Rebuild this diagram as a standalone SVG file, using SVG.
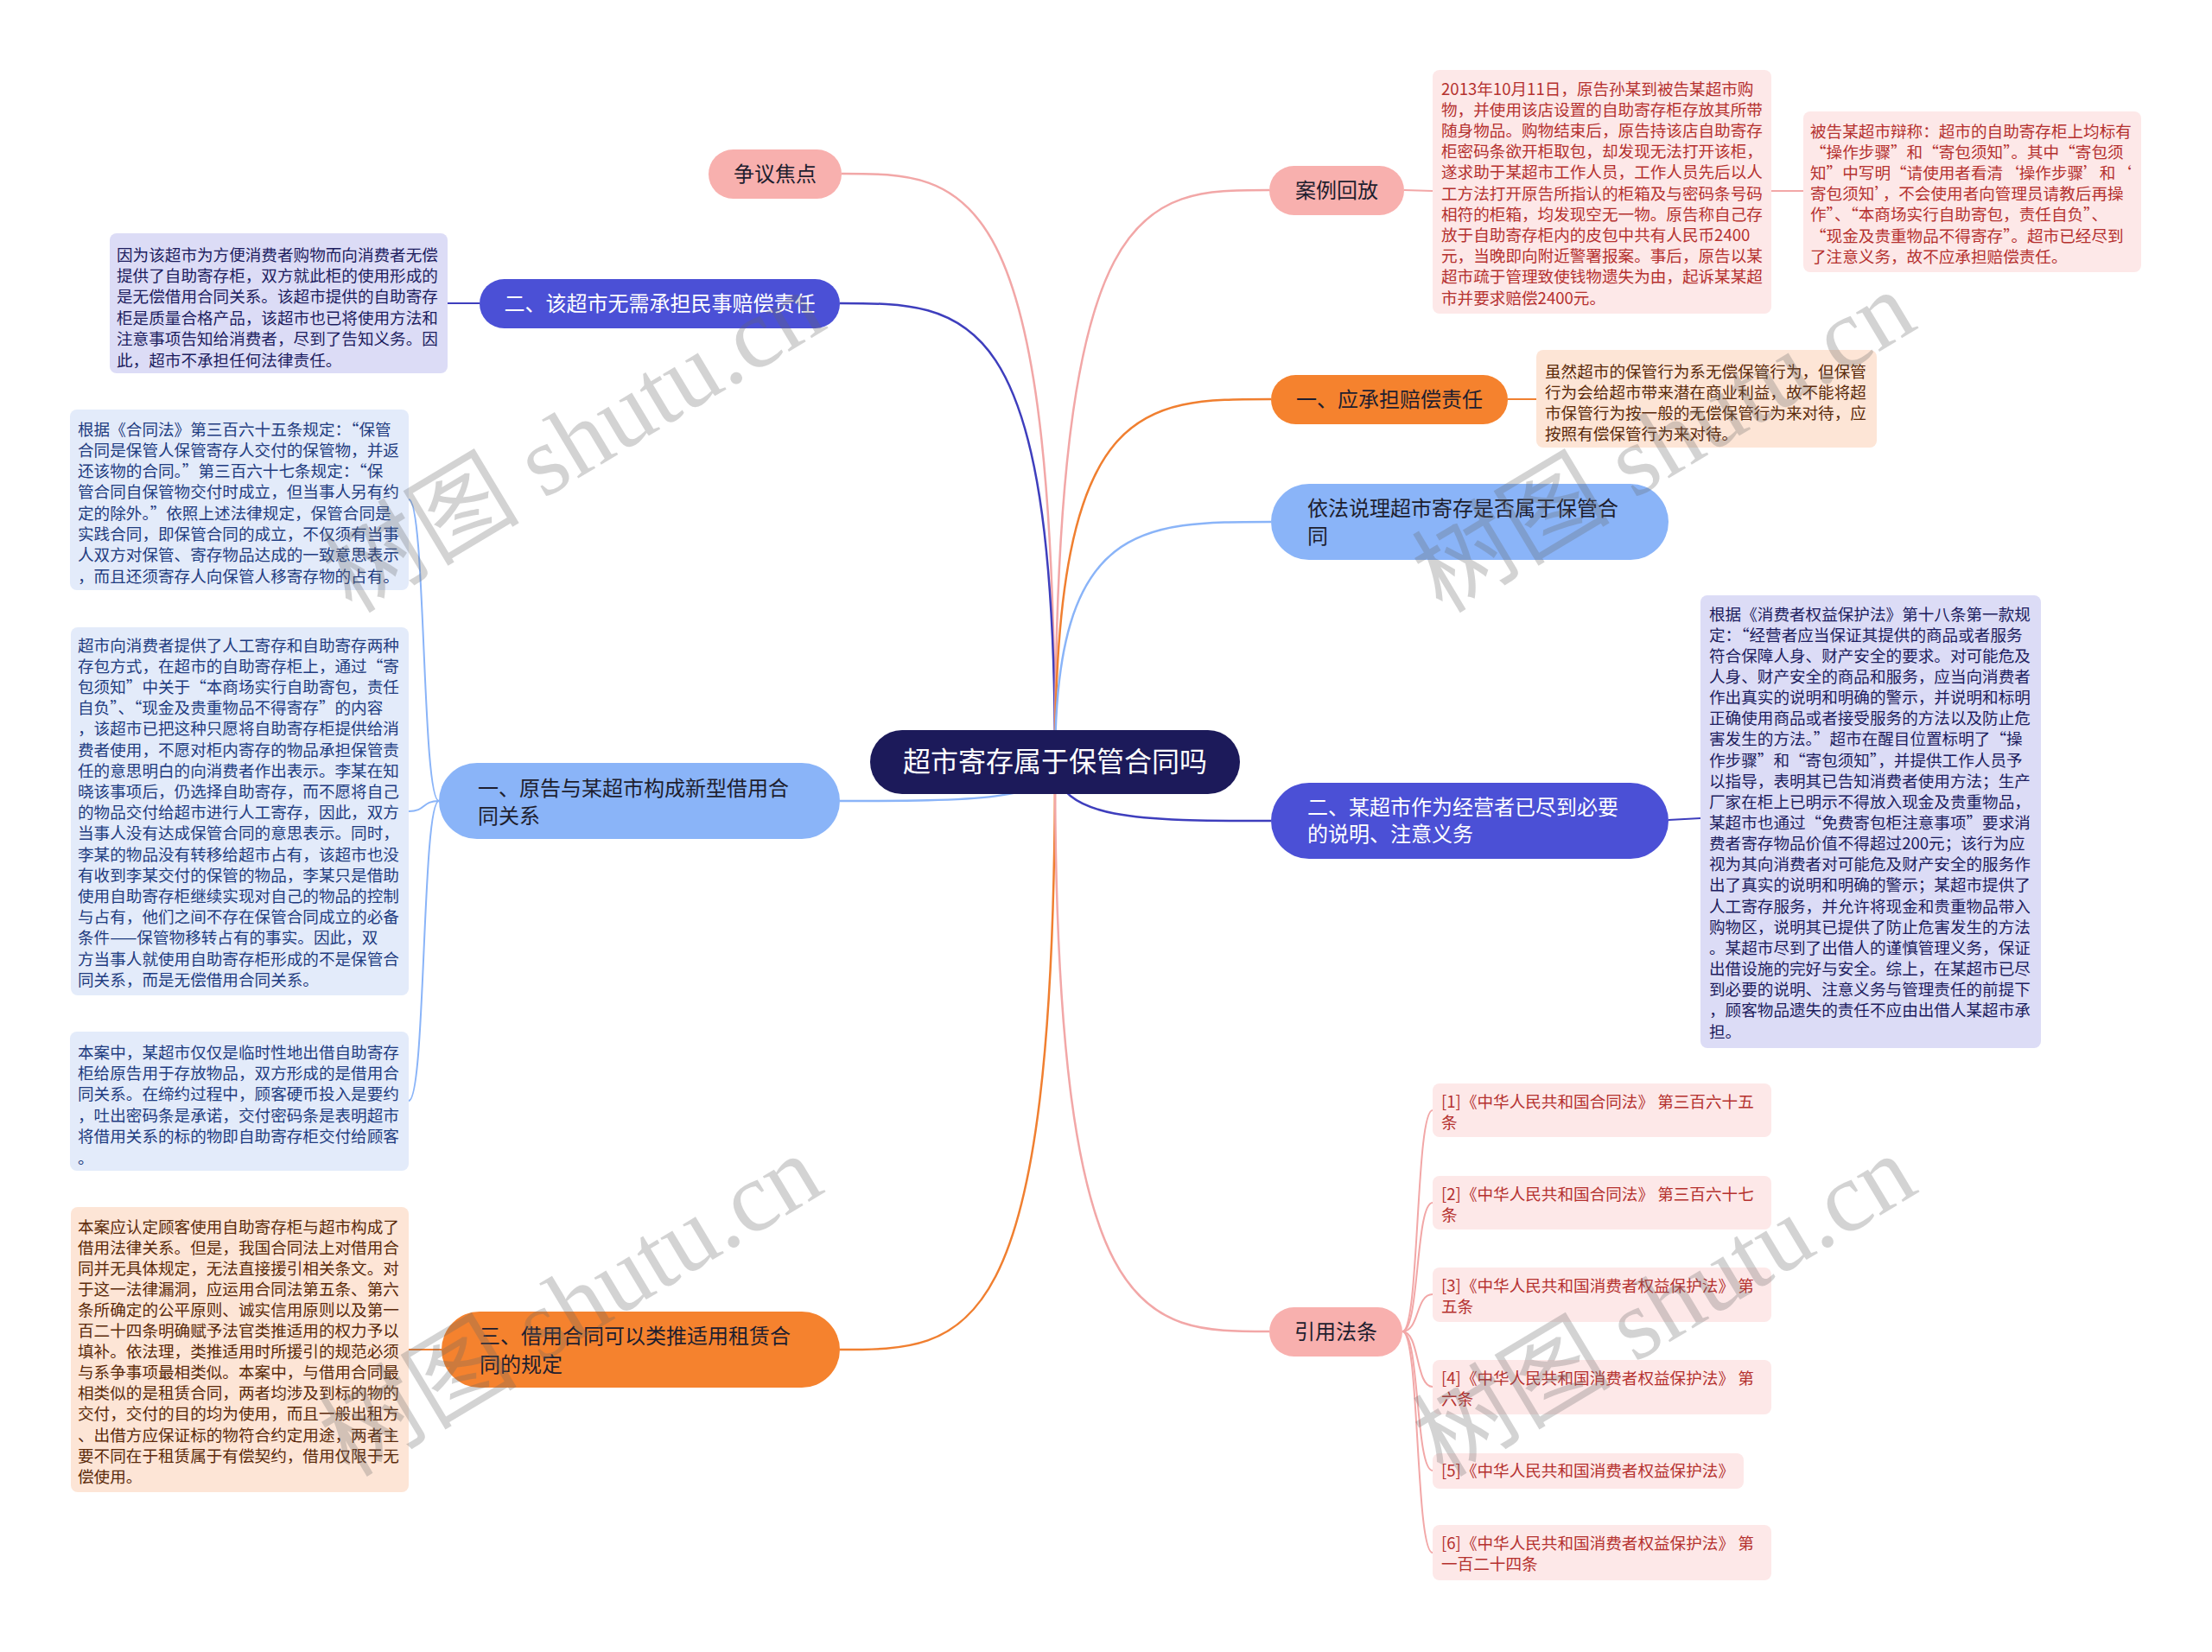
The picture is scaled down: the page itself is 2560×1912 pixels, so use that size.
<svg xmlns="http://www.w3.org/2000/svg" width="2560" height="1912" viewBox="0 0 2560 1912">
<style>
text{font-family:"Noto Sans CJK SC","Noto Sans",sans-serif}
.n{font-size:24px;fill:#1e1e2e}
.nw{font-size:24px;fill:#ffffff}
.t{font-size:18.6px}
.c{fill:none;stroke-width:2.5}
.s{fill:none;stroke-width:2}
.pk{stroke:#f2a7a7}
.or{stroke:#f07f30}
.lb{stroke:#8ab4f8}
.ig{stroke:#3e3ebd}
.bpk{fill:#fde8e8}
.bla{fill:#dcdcf6}
.blb{fill:#e3ebfa}
.bpe{fill:#fde5d6}
.tpk{fill:#b5312f}
.tla{fill:#1d1d5e}
.tlb{fill:#1f3c80}
.tpe{fill:#5b2a0a}
.wm{font-family:"Liberation Serif","Noto Sans CJK SC",serif;font-size:115px;fill:#666;opacity:0.28}
</style>
<rect width="2560" height="1912" fill="#ffffff"/>

<g id="connectors">
  <path class="c pk" d="M1221,882 C1221,201 1121,201 974,201"/>
  <path class="c ig" d="M1221,882 C1221,351 1121,351 972,351"/>
  <path class="c lb" d="M1221,882 C1221,927 1121,927 972,927"/>
  <path class="c or" d="M1221,882 C1221,1562 1121,1562 972,1562"/>
  <path class="c pk" d="M1221,882 C1221,220 1321,220 1469,220"/>
  <path class="c or" d="M1221,882 C1221,462 1321,462 1471,462"/>
  <path class="c lb" d="M1221,882 C1221,604 1321,604 1471,604"/>
  <path class="c ig" d="M1221,882 C1221,950 1321,950 1471,950"/>
  <path class="c pk" d="M1221,882 C1221,1541 1321,1541 1469,1541"/>

  <path class="s pk" d="M1625,220 L1658,221"/>
  <path class="s pk" d="M2050,221 L2087,221"/>
  <path class="s or" d="M1745,462 L1778,462"/>
  <path class="s ig" d="M1931,949 L1968,947"/>
  <path class="s ig" d="M555,351 L518,351"/>
  <path class="s or" d="M511,1562 L473,1562"/>
  <path class="s lb" d="M508,927 C488,927 493,578 473,578"/>
  <path class="s lb" d="M508,927 C488,927 493,939 473,939"/>
  <path class="s lb" d="M508,927 C488,927 493,1274 473,1274"/>

  <path class="s pk" d="M1623,1541 C1643,1541 1638,1285 1658,1285"/>
  <path class="s pk" d="M1623,1541 C1643,1541 1638,1392 1658,1392"/>
  <path class="s pk" d="M1623,1541 C1643,1541 1638,1498 1658,1498"/>
  <path class="s pk" d="M1623,1541 C1643,1541 1638,1605 1658,1605"/>
  <path class="s pk" d="M1623,1541 C1643,1541 1638,1702 1658,1702"/>
  <path class="s pk" d="M1623,1541 C1643,1541 1638,1797 1658,1797"/>
</g>

<g id="center">
  <rect x="1007" y="845" width="428" height="74" rx="37" fill="#1c1a5a"/>
  <text x="1221" y="893" text-anchor="middle" style="font-size:32px" fill="#ffffff">超市寄存属于保管合同吗</text>
</g>

<g id="n-zhengyi">
  <rect x="820" y="173" width="154" height="57" rx="28.5" fill="#f8b0ae"/>
  <text class="n" x="897" y="209.5" text-anchor="middle">争议焦点</text>
</g>

<g id="n-wuxu">
  <rect x="555" y="323" width="417" height="57" rx="28.5" fill="#4b50d6"/>
  <text class="nw" x="763.5" y="359.5" text-anchor="middle">二、该超市无需承担民事赔偿责任</text>
</g>
<g id="b-wuxu">
  <rect class="bla" x="127" y="270" width="391" height="162" rx="8"/>
  <text class="t tla">
    <tspan x="135" y="301.5">因为该超市为方便消费者购物而向消费者无偿</tspan>
    <tspan x="135" y="325.9">提供了自助寄存柜，双方就此柜的使用形成的</tspan>
    <tspan x="135" y="350.3">是无偿借用合同关系。该超市提供的自助寄存</tspan>
    <tspan x="135" y="374.7">柜是质量合格产品，该超市也已将使用方法和</tspan>
    <tspan x="135" y="399.1">注意事项告知给消费者，尽到了告知义务。因</tspan>
    <tspan x="135" y="423.5">此，超市不承担任何法律责任。</tspan>
  </text>
</g>

<g id="n-yuangao">
  <rect x="508" y="883" width="464" height="88" rx="44" fill="#8ab4f8"/>
  <text class="n">
    <tspan x="553" y="921">一、原告与某超市构成新型借用合</tspan>
    <tspan x="553" y="953">同关系</tspan>
  </text>
</g>
<g id="b-yuangao-1">
  <rect class="blb" x="81" y="474" width="392" height="209" rx="8"/>
  <text class="t tlb">
    <tspan x="90" y="503.5">根据《合同法》第三百六十五条规定：“保管</tspan>
    <tspan x="90" y="527.8">合同是保管人保管寄存人交付的保管物，并返</tspan>
    <tspan x="90" y="552.1">还该物的合同。”第三百六十七条规定：“保</tspan>
    <tspan x="90" y="576.4">管合同自保管物交付时成立，但当事人另有约</tspan>
    <tspan x="90" y="600.7">定的除外。”依照上述法律规定，保管合同是</tspan>
    <tspan x="90" y="625">实践合同，即保管合同的成立，不仅须有当事</tspan>
    <tspan x="90" y="649.3">人双方对保管、寄存物品达成的一致意思表示</tspan>
    <tspan x="90" y="673.6">，而且还须寄存人向保管人移寄存物的占有。</tspan>
  </text>
</g>
<g id="b-yuangao-2">
  <rect class="blb" x="82" y="726" width="391" height="426" rx="8"/>
  <text class="t tlb">
    <tspan x="90" y="753.5">超市向消费者提供了人工寄存和自助寄存两种</tspan>
    <tspan x="90" y="777.7">存包方式，在超市的自助寄存柜上，通过“寄</tspan>
    <tspan x="90" y="801.9">包须知”中关于“本商场实行自助寄包，责任</tspan>
    <tspan x="90" y="826.1">自负”、“现金及贵重物品不得寄存”的内容</tspan>
    <tspan x="90" y="850.3">，该超市已把这种只愿将自助寄存柜提供给消</tspan>
    <tspan x="90" y="874.5">费者使用，不愿对柜内寄存的物品承担保管责</tspan>
    <tspan x="90" y="898.7">任的意思明白的向消费者作出表示。李某在知</tspan>
    <tspan x="90" y="922.9">晓该事项后，仍选择自助寄存，而不愿将自己</tspan>
    <tspan x="90" y="947.1">的物品交付给超市进行人工寄存，因此，双方</tspan>
    <tspan x="90" y="971.3">当事人没有达成保管合同的意思表示。同时，</tspan>
    <tspan x="90" y="995.5">李某的物品没有转移给超市占有，该超市也没</tspan>
    <tspan x="90" y="1019.7">有收到李某交付的保管的物品，李某只是借助</tspan>
    <tspan x="90" y="1043.9">使用自助寄存柜继续实现对自己的物品的控制</tspan>
    <tspan x="90" y="1068.1">与占有，他们之间不存在保管合同成立的必备</tspan>
    <tspan x="90" y="1092.3">条件——保管物移转占有的事实。因此，双</tspan>
    <tspan x="90" y="1116.5">方当事人就使用自助寄存柜形成的不是保管合</tspan>
    <tspan x="90" y="1140.7">同关系，而是无偿借用合同关系。</tspan>
  </text>
</g>
<g id="b-yuangao-3">
  <rect class="blb" x="81" y="1194" width="392" height="161" rx="8"/>
  <text class="t tlb">
    <tspan x="90" y="1224.5">本案中，某超市仅仅是临时性地出借自助寄存</tspan>
    <tspan x="90" y="1248.9">柜给原告用于存放物品，双方形成的是借用合</tspan>
    <tspan x="90" y="1273.3">同关系。在缔约过程中，顾客硬币投入是要约</tspan>
    <tspan x="90" y="1297.7">，吐出密码条是承诺，交付密码条是表明超市</tspan>
    <tspan x="90" y="1322.1">将借用关系的标的物即自助寄存柜交付给顾客</tspan>
    <tspan x="90" y="1346.5">。</tspan>
  </text>
</g>

<g id="n-leitui">
  <rect x="511" y="1518" width="461" height="88" rx="44" fill="#f5822e"/>
  <text class="n">
    <tspan x="555" y="1554.5">三、借用合同可以类推适用租赁合</tspan>
    <tspan x="555" y="1587.5">同的规定</tspan>
  </text>
</g>
<g id="b-leitui">
  <rect class="bpe" x="82" y="1397" width="391" height="330" rx="8"/>
  <text class="t tpe">
    <tspan x="90" y="1426.5">本案应认定顾客使用自助寄存柜与超市构成了</tspan>
    <tspan x="90" y="1450.6">借用法律关系。但是，我国合同法上对借用合</tspan>
    <tspan x="90" y="1474.7">同并无具体规定，无法直接援引相关条文。对</tspan>
    <tspan x="90" y="1498.8">于这一法律漏洞，应运用合同法第五条、第六</tspan>
    <tspan x="90" y="1522.9">条所确定的公平原则、诚实信用原则以及第一</tspan>
    <tspan x="90" y="1547">百二十四条明确赋予法官类推适用的权力予以</tspan>
    <tspan x="90" y="1571.1">填补。依法理，类推适用时所援引的规范必须</tspan>
    <tspan x="90" y="1595.2">与系争事项最相类似。本案中，与借用合同最</tspan>
    <tspan x="90" y="1619.3">相类似的是租赁合同，两者均涉及到标的物的</tspan>
    <tspan x="90" y="1643.4">交付，交付的目的均为使用，而且一般出租方</tspan>
    <tspan x="90" y="1667.5">、出借方应保证标的物符合约定用途，两者主</tspan>
    <tspan x="90" y="1691.6">要不同在于租赁属于有偿契约，借用仅限于无</tspan>
    <tspan x="90" y="1715.7">偿使用。</tspan>
  </text>
</g>

<g id="n-anli">
  <rect x="1469" y="192" width="156" height="57" rx="28.5" fill="#f8b0ae"/>
  <text class="n" x="1547" y="228.5" text-anchor="middle">案例回放</text>
</g>
<g id="b-anli-1">
  <rect class="bpk" x="1658" y="81" width="392" height="282" rx="8"/>
  <text class="t tpk">
    <tspan x="1668" y="109.5">2013年10月11日，原告孙某到被告某超市购</tspan>
    <tspan x="1668" y="133.7">物，并使用该店设置的自助寄存柜存放其所带</tspan>
    <tspan x="1668" y="157.9">随身物品。购物结束后，原告持该店自助寄存</tspan>
    <tspan x="1668" y="182.1">柜密码条欲开柜取包，却发现无法打开该柜，</tspan>
    <tspan x="1668" y="206.3">遂求助于某超市工作人员，工作人员先后以人</tspan>
    <tspan x="1668" y="230.5">工方法打开原告所指认的柜箱及与密码条号码</tspan>
    <tspan x="1668" y="254.7">相符的柜箱，均发现空无一物。原告称自己存</tspan>
    <tspan x="1668" y="278.9">放于自助寄存柜内的皮包中共有人民币2400</tspan>
    <tspan x="1668" y="303.1">元，当晚即向附近警署报案。事后，原告以某</tspan>
    <tspan x="1668" y="327.3">超市疏于管理致使钱物遗失为由，起诉某某超</tspan>
    <tspan x="1668" y="351.5">市并要求赔偿2400元。</tspan>
  </text>
</g>
<g id="b-anli-2">
  <rect class="bpk" x="2087" y="129" width="391" height="186" rx="8"/>
  <text class="t tpk">
    <tspan x="2095" y="158.5">被告某超市辩称：超市的自助寄存柜上均标有</tspan>
    <tspan x="2095" y="182.7">“操作步骤”和“寄包须知”。其中“寄包须</tspan>
    <tspan x="2095" y="206.9">知”中写明“请使用者看清‘操作步骤’和‘</tspan>
    <tspan x="2095" y="231.1">寄包须知’，不会使用者向管理员请教后再操</tspan>
    <tspan x="2095" y="255.3">作”、“本商场实行自助寄包，责任自负”、</tspan>
    <tspan x="2095" y="279.5">“现金及贵重物品不得寄存”。超市已经尽到</tspan>
    <tspan x="2095" y="303.7">了注意义务，故不应承担赔偿责任。</tspan>
  </text>
</g>

<g id="n-chengdan">
  <rect x="1471" y="434" width="274" height="57" rx="28.5" fill="#f5822e"/>
  <text class="n" x="1608" y="470.5" text-anchor="middle">一、应承担赔偿责任</text>
</g>
<g id="b-chengdan">
  <rect class="bpe" x="1778" y="405" width="394" height="113" rx="8"/>
  <text class="t tpe">
    <tspan x="1788" y="436.5">虽然超市的保管行为系无偿保管行为，但保管</tspan>
    <tspan x="1788" y="460.5">行为会给超市带来潜在商业利益，故不能将超</tspan>
    <tspan x="1788" y="484.5">市保管行为按一般的无偿保管行为来对待，应</tspan>
    <tspan x="1788" y="508.5">按照有偿保管行为来对待。</tspan>
  </text>
</g>

<g id="n-yifa">
  <rect x="1471" y="560" width="460" height="88" rx="44" fill="#8ab4f8"/>
  <text class="n">
    <tspan x="1513" y="596.5">依法说理超市寄存是否属于保管合</tspan>
    <tspan x="1513" y="628.5">同</tspan>
  </text>
</g>

<g id="n-jinli">
  <rect x="1471" y="906" width="460" height="88" rx="44" fill="#4b50d6"/>
  <text class="nw">
    <tspan x="1513" y="942.5">二、某超市作为经营者已尽到必要</tspan>
    <tspan x="1513" y="973.5">的说明、注意义务</tspan>
  </text>
</g>
<g id="b-jinli">
  <rect class="bla" x="1968" y="689" width="394" height="524" rx="8"/>
  <text class="t tla">
    <tspan x="1978" y="717.5">根据《消费者权益保护法》第十八条第一款规</tspan>
    <tspan x="1978" y="741.65">定：“经营者应当保证其提供的商品或者服务</tspan>
    <tspan x="1978" y="765.8">符合保障人身、财产安全的要求。对可能危及</tspan>
    <tspan x="1978" y="789.95">人身、财产安全的商品和服务，应当向消费者</tspan>
    <tspan x="1978" y="814.1">作出真实的说明和明确的警示，并说明和标明</tspan>
    <tspan x="1978" y="838.25">正确使用商品或者接受服务的方法以及防止危</tspan>
    <tspan x="1978" y="862.4">害发生的方法。”超市在醒目位置标明了“操</tspan>
    <tspan x="1978" y="886.55">作步骤”和“寄包须知”，并提供工作人员予</tspan>
    <tspan x="1978" y="910.7">以指导，表明其已告知消费者使用方法；生产</tspan>
    <tspan x="1978" y="934.85">厂家在柜上已明示不得放入现金及贵重物品，</tspan>
    <tspan x="1978" y="959">某超市也通过“免费寄包柜注意事项”要求消</tspan>
    <tspan x="1978" y="983.15">费者寄存物品价值不得超过200元；该行为应</tspan>
    <tspan x="1978" y="1007.3">视为其向消费者对可能危及财产安全的服务作</tspan>
    <tspan x="1978" y="1031.45">出了真实的说明和明确的警示；某超市提供了</tspan>
    <tspan x="1978" y="1055.6">人工寄存服务，并允许将现金和贵重物品带入</tspan>
    <tspan x="1978" y="1079.75">购物区，说明其已提供了防止危害发生的方法</tspan>
    <tspan x="1978" y="1103.9">。某超市尽到了出借人的谨慎管理义务，保证</tspan>
    <tspan x="1978" y="1128.05">出借设施的完好与安全。综上，在某超市已尽</tspan>
    <tspan x="1978" y="1152.2">到必要的说明、注意义务与管理责任的前提下</tspan>
    <tspan x="1978" y="1176.35">，顾客物品遗失的责任不应由出借人某超市承</tspan>
    <tspan x="1978" y="1200.5">担。</tspan>
  </text>
</g>

<g id="n-yinyong">
  <rect x="1469" y="1513" width="154" height="57" rx="28.5" fill="#f8b0ae"/>
  <text class="n" x="1546" y="1549.5" text-anchor="middle">引用法条</text>
</g>
<g id="r1">
  <rect class="bpk" x="1658" y="1254" width="392" height="62" rx="8"/>
  <text class="t tpk"><tspan x="1668" y="1281.5">[1]《中华人民共和国合同法》 第三百六十五</tspan><tspan x="1668" y="1305.5">条</tspan></text>
</g>
<g id="r2">
  <rect class="bpk" x="1658" y="1361" width="392" height="62" rx="8"/>
  <text class="t tpk"><tspan x="1668" y="1388.5">[2]《中华人民共和国合同法》 第三百六十七</tspan><tspan x="1668" y="1412.5">条</tspan></text>
</g>
<g id="r3">
  <rect class="bpk" x="1658" y="1467" width="392" height="63" rx="8"/>
  <text class="t tpk"><tspan x="1668" y="1494.5">[3]《中华人民共和国消费者权益保护法》 第</tspan><tspan x="1668" y="1518.5">五条</tspan></text>
</g>
<g id="r4">
  <rect class="bpk" x="1658" y="1574" width="392" height="63" rx="8"/>
  <text class="t tpk"><tspan x="1668" y="1601.5">[4]《中华人民共和国消费者权益保护法》 第</tspan><tspan x="1668" y="1625.5">六条</tspan></text>
</g>
<g id="r5">
  <rect class="bpk" x="1658" y="1682" width="360" height="41" rx="8"/>
  <text class="t tpk"><tspan x="1668" y="1709">[5]《中华人民共和国消费者权益保护法》</tspan></text>
</g>
<g id="r6">
  <rect class="bpk" x="1658" y="1765" width="392" height="64" rx="8"/>
  <text class="t tpk"><tspan x="1668" y="1792.5">[6]《中华人民共和国消费者权益保护法》 第</tspan><tspan x="1668" y="1816.5">一百二十四条</tspan></text>
</g>

<g id="watermarks">
  <text class="wm" x="665" y="550" text-anchor="middle" transform="rotate(-31 665 514)">树图 shutu.cn</text>
  <text class="wm" x="1927" y="550" text-anchor="middle" transform="rotate(-31 1927 514)">树图 shutu.cn</text>
  <text class="wm" x="661" y="1550" text-anchor="middle" transform="rotate(-31 661 1512)">树图 shutu.cn</text>
  <text class="wm" x="1927" y="1550" text-anchor="middle" transform="rotate(-31 1927 1512)">树图 shutu.cn</text>
</g>
</svg>
